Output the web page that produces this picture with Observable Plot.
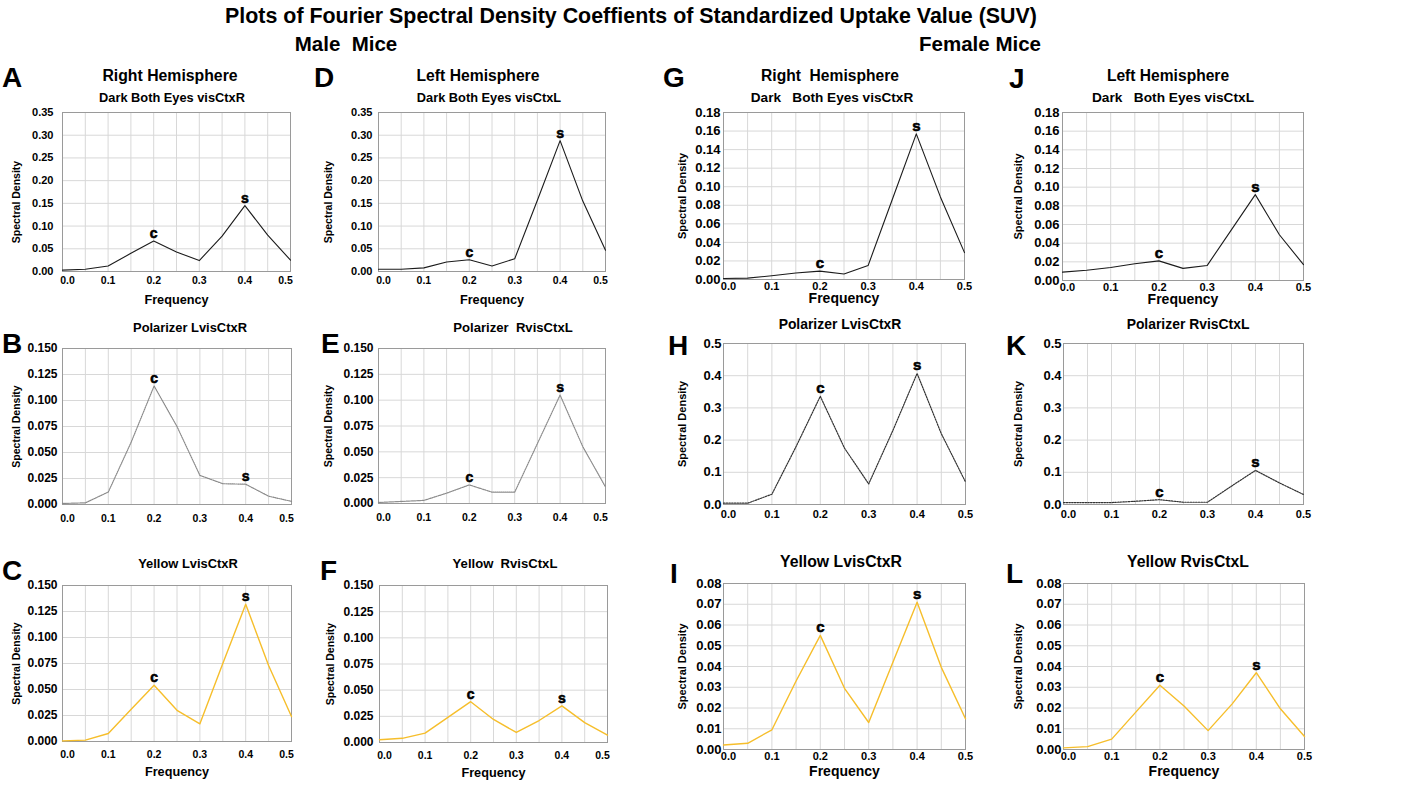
<!DOCTYPE html>
<html>
<head>
<meta charset="utf-8">
<script src="https://cdn.jsdelivr.net/npm/d3@7"></script>
<script src="https://cdn.jsdelivr.net/npm/@observablehq/plot@0.6"></script>
<style>
  body { margin: 0; background: #fff; }
  #fig { position: relative; width: 1404px; height: 785px; overflow: hidden; background: #fff;
         font-family: "Liberation Sans", Arial, sans-serif; }
  #fig > svg { position: absolute; }
</style>
</head>
<body>
<div id="fig"></div>
<script>
// Frequencies of the spectral estimates
const freq = [0, 0.05, 0.1, 0.15, 0.2, 0.25, 0.3, 0.35, 0.4, 0.45, 0.5];

// Spectral density of SUV, male mice
const maleDarkR   = [0.003, 0.005, 0.012, 0.040, 0.067, 0.043, 0.024, 0.078, 0.145, 0.080, 0.025];
const maleDarkL   = [0.005, 0.005, 0.008, 0.021, 0.026, 0.012, 0.028, 0.157, 0.288, 0.155, 0.047];
const malePolR    = [0.001, 0.0016, 0.012, 0.060, 0.114, 0.075, 0.028, 0.020, 0.0195, 0.008, 0.003];
const malePolL    = [0.001, 0.002, 0.003, 0.010, 0.018, 0.011, 0.011, 0.058, 0.105, 0.055, 0.016];
const maleYelR    = [0.0006, 0.0013, 0.0077, 0.031, 0.054, 0.030, 0.017, 0.075, 0.132, 0.073, 0.024];
const maleYelL    = [0.0026, 0.004, 0.009, 0.024, 0.039, 0.022, 0.0096, 0.021, 0.035, 0.019, 0.007];

// Spectral density of SUV, female mice
const femDarkR    = [0.001, 0.0015, 0.004, 0.007, 0.009, 0.006, 0.015, 0.086, 0.157, 0.089, 0.029];
const femDarkL    = [0.009, 0.011, 0.014, 0.018, 0.021, 0.013, 0.016, 0.054, 0.092, 0.049, 0.017];
const femPolR     = [0.004, 0.004, 0.032, 0.180, 0.336, 0.175, 0.064, 0.230, 0.407, 0.220, 0.070];
const femPolL     = [0.006, 0.006, 0.006, 0.010, 0.015, 0.007, 0.007, 0.057, 0.106, 0.067, 0.031];
const femYelR     = [0.0022, 0.003, 0.0095, 0.033, 0.055, 0.0295, 0.013, 0.042, 0.071, 0.0396, 0.0148];
const femYelL     = [0.0008, 0.0014, 0.005, 0.018, 0.031, 0.021, 0.0091, 0.022, 0.037, 0.0196, 0.0063];

// Peak annotations
const peakFreqs  = [0.2, 0.4];
const peakLabels = ["c", "s"];

// Axis ticks
const xTicks   = [0, 0.1, 0.2, 0.3, 0.4, 0.5];
const xGrid    = [0.05, 0.1, 0.15, 0.2, 0.25, 0.3, 0.35, 0.4, 0.45];
const yTicks35 = [0, 0.05, 0.10, 0.15, 0.20, 0.25, 0.30, 0.35];
const yTicks18 = [0, 0.02, 0.04, 0.06, 0.08, 0.10, 0.12, 0.14, 0.16, 0.18];
const yTicks15 = [0, 0.025, 0.05, 0.075, 0.10, 0.125, 0.15];
const yTicks5  = [0, 0.1, 0.2, 0.3, 0.4, 0.5];
const yTicks08 = [0, 0.01, 0.02, 0.03, 0.04, 0.05, 0.06, 0.07, 0.08];

const FONT = "Liberation Sans, Arial, sans-serif";

// Line styles per condition
const styles = {
  dark:   {stroke: "#1b1b1b", strokeWidth: 1.1},
  polM:   {stroke: "#8a8a8a", strokeWidth: 1.2, strokeDasharray: "1 1"},
  polF:   {stroke: "#333333", strokeWidth: 1.2, strokeDasharray: "1.5 1.2"},
  yellow: {stroke: "#f6be2b", strokeWidth: 1.4}
};

// Text sizes (male dark row, other male rows, female columns)
const maleTop = {yTick: 11,   xTick: 10.5, yLab: 10.5, xLab: 12.7, peak: 14, endShift: -5};
const maleLow = {yTick: 12,   xTick: 10.5, yLab: 10.5, xLab: 12.7, peak: 14, endShift: -5};
const female  = {yTick: 13,   xTick: 11,   yLab: 11,   xLab: 14,   peak: 15, endShift: 0};

// Panel definitions: plot frame box [left, top, right, bottom] on the page
const panels = [
  {box: [62, 112, 290, 271],   values: maleDarkR, dom: [0, 0.35], ticks: yTicks35, fmt: ".2f", st: styles.dark,   f: maleTop, yPad: 9, xPad: 5, xLab: 32, yGap: 46, yShift: 10},
  {box: [378, 112, 605, 271],  values: maleDarkL, dom: [0, 0.35], ticks: yTicks35, fmt: ".2f", st: styles.dark,   f: maleTop, yPad: 6, xPad: 5, xLab: 32, yGap: 50, yShift: 10},
  {box: [723, 112, 964, 279],  values: femDarkR,  dom: [0, 0.18], ticks: yTicks18, fmt: ".2f", st: styles.dark,   f: female,  yPad: 3, xPad: 3, xLab: 23, yGap: 41, yShift: 0},
  {box: [1062, 112, 1303, 280],values: femDarkL,  dom: [0, 0.18], ticks: yTicks18, fmt: ".2f", st: styles.dark,   f: female,  yPad: 3, xPad: 3, xLab: 23, yGap: 44, yShift: 0},
  {box: [62, 348, 291, 504],   values: malePolR,  dom: [0, 0.15], ticks: yTicks15, fmt: ".3f", st: styles.polM,   f: maleLow, yPad: 5, xPad: 10, xLab: null, yGap: 46, yShift: 0},
  {box: [378, 348, 605, 503],  values: malePolL,  dom: [0, 0.15], ticks: yTicks15, fmt: ".3f", st: styles.polM,   f: maleLow, yPad: 5, xPad: 10, xLab: null, yGap: 50, yShift: 0},
  {box: [723, 343, 965, 504],  values: femPolR,   dom: [0, 0.5],  ticks: yTicks5,  fmt: ".1f", st: styles.polF,   f: female,  yPad: 2, xPad: 6, xLab: null, yGap: 41, yShift: 0},
  {box: [1063, 343, 1303, 504],values: femPolL,   dom: [0, 0.5],  ticks: yTicks5,  fmt: ".1f", st: styles.polF,   f: female,  yPad: 2, xPad: 6, xLab: null, yGap: 45, yShift: 0},
  {box: [62, 585, 291, 741],   values: maleYelR,  dom: [0, 0.15], ticks: yTicks15, fmt: ".3f", st: styles.yellow, f: maleLow, yPad: 5, xPad: 9, xLab: 34, yGap: 46, yShift: 0},
  {box: [379, 585, 607, 742],  values: maleYelL,  dom: [0, 0.15], ticks: yTicks15, fmt: ".3f", st: styles.yellow, f: maleLow, yPad: 6, xPad: 9, xLab: 34, yGap: 49, yShift: 0},
  {box: [723, 583, 965, 749],  values: femYelR,   dom: [0, 0.08], ticks: yTicks08, fmt: ".2f", st: styles.yellow, f: female,  yPad: 2, xPad: 3, xLab: 26, yGap: 41, yShift: 0},
  {box: [1063, 583, 1304, 749],values: femYelL,   dom: [0, 0.08], ticks: yTicks08, fmt: ".2f", st: styles.yellow, f: female,  yPad: 2, xPad: 3, xLab: 26, yGap: 45, yShift: 0}
];

const fig = document.getElementById("fig");
const mL = 70, mR = 14, mT = 24, mB = 44;
const fmtX = d3.format(".1f");

for (const p of panels) {
  const [x0, y0, x1, y1] = p.box;
  const fmtY = d3.format(p.fmt);
  const series = freq.map((f, i) => ({f, v: p.values[i]}));
  const peaks = peakFreqs.map((f, k) => ({f, v: p.values[freq.indexOf(f)], t: peakLabels[k]}));
  const xText = {x: d => d, text: d => fmtX(d), frameAnchor: "bottom", lineAnchor: "top",
    textAnchor: "middle", dy: p.xPad, fontSize: p.f.xTick, fontWeight: "bold", fill: "#000"};
  const marks = [
    Plot.gridX(xGrid, {stroke: "#d8d8d8", strokeOpacity: 1}),
    Plot.gridY(p.ticks, {stroke: "#d8d8d8", strokeOpacity: 1}),
    Plot.frame({stroke: "#9a9a9a"}),
    // x tick labels; the end labels are nudged inside the frame
    Plot.text(xTicks.slice(0, 1), {...xText, dx: 5}),
    Plot.text(xTicks.slice(1, -1), xText),
    Plot.text(xTicks.slice(-1), {...xText, dx: p.f.endShift}),
    // y tick labels
    Plot.text(p.ticks, {y: d => d, text: d => fmtY(d), frameAnchor: "left", textAnchor: "end",
      lineAnchor: "middle", dx: -p.yPad, fontSize: p.f.yTick, fontWeight: "bold", fill: "#000"}),
    Plot.line(series, {x: "f", y: "v", ...p.st}),
    Plot.text(peaks, {x: "f", y: "v", text: "t", lineAnchor: "bottom", dy: -3,
      fontSize: p.f.peak, fontWeight: "bold", fill: "#000", stroke: "#000", strokeWidth: 0.6}),
    Plot.text(["Spectral Density"], {text: d => d, frameAnchor: "left", textAnchor: "middle",
      lineAnchor: "middle", rotate: -90, dx: -p.yGap, dy: p.yShift,
      fontSize: p.f.yLab, fontWeight: "bold", fill: "#000"})
  ];
  if (p.xLab != null) {
    marks.push(Plot.text(["Frequency"], {text: d => d, frameAnchor: "bottom", lineAnchor: "bottom",
      textAnchor: "middle", dy: p.xLab, fontSize: p.f.xLab, fontWeight: "bold", fill: "#000"}));
  }
  const chart = Plot.plot({
    width: (x1 - x0) + mL + mR,
    height: (y1 - y0) + mT + mB,
    marginLeft: mL, marginRight: mR, marginTop: mT, marginBottom: mB,
    x: {domain: [0, 0.5], axis: null},
    y: {domain: p.dom, axis: null},
    style: {fontFamily: FONT, background: "transparent", overflow: "visible", color: "#000"},
    marks
  });
  chart.style.left = (x0 - mL) + "px";
  chart.style.top = (y0 - mT) + "px";
  chart.style.maxWidth = "none";
  fig.appendChild(chart);
}

// Page-level headings and panel letters
const headings = [
  {t: "Plots of Fourier Spectral Density Coeffients of Standardized Uptake Value (SUV)", x: 631, y: 23, s: 21.4, a: "middle"},
  {t: "Male  Mice", x: 346, y: 51, s: 20.5, a: "middle"},
  {t: "Female Mice", x: 980, y: 51, s: 20.5, a: "middle"},
  {t: "Right Hemisphere", x: 170, y: 81, s: 15.8, a: "middle"},
  {t: "Dark Both Eyes visCtxR", x: 172, y: 102, s: 12.8, a: "middle"},
  {t: "Left Hemisphere", x: 478, y: 81, s: 15.7, a: "middle"},
  {t: "Dark Both Eyes visCtxL", x: 489, y: 102, s: 12.8, a: "middle"},
  {t: "Right  Hemisphere", x: 830, y: 81, s: 15.6, a: "middle"},
  {t: "Dark   Both Eyes visCtxR", x: 832, y: 102, s: 13.6, a: "middle"},
  {t: "Left Hemisphere", x: 1168, y: 81, s: 15.6, a: "middle"},
  {t: "Dark   Both Eyes visCtxL", x: 1173, y: 102, s: 13.7, a: "middle"},
  {t: "Polarizer LvisCtxR", x: 190, y: 332, s: 12.9, a: "middle"},
  {t: "Polarizer  RvisCtxL", x: 513, y: 332, s: 13.1, a: "middle"},
  {t: "Polarizer LvisCtxR", x: 840, y: 329, s: 13.9, a: "middle"},
  {t: "Polarizer RvisCtxL", x: 1188, y: 329, s: 13.9, a: "middle"},
  {t: "Yellow LvisCtxR", x: 188, y: 568, s: 12.9, a: "middle"},
  {t: "Yellow  RvisCtxL", x: 505, y: 568, s: 13.1, a: "middle"},
  {t: "Yellow LvisCtxR", x: 841, y: 567, s: 15.8, a: "middle"},
  {t: "Yellow RvisCtxL", x: 1188, y: 567, s: 15.8, a: "middle"},
  {t: "A", x: 2, y: 87, s: 28, a: "start"},
  {t: "D", x: 314, y: 87, s: 28, a: "start"},
  {t: "G", x: 663, y: 87, s: 28, a: "start"},
  {t: "J", x: 1009, y: 88, s: 28, a: "start"},
  {t: "B", x: 2, y: 353, s: 28, a: "start"},
  {t: "E", x: 321, y: 353, s: 28, a: "start"},
  {t: "H", x: 668, y: 355, s: 28, a: "start"},
  {t: "K", x: 1006, y: 355, s: 28, a: "start"},
  {t: "C", x: 2, y: 580, s: 28, a: "start"},
  {t: "F", x: 320, y: 580, s: 28, a: "start"},
  {t: "I", x: 670, y: 583, s: 28, a: "start"},
  {t: "L", x: 1006, y: 583, s: 28, a: "start"}
];

const overlay = d3.create("svg")
  .attr("width", 1404).attr("height", 785)
  .style("left", "0px").style("top", "0px").style("pointer-events", "none")
  .attr("font-family", FONT).attr("font-weight", "bold");
overlay.selectAll("text").data(headings).join("text")
  .attr("x", d => d.x).attr("y", d => d.y)
  .attr("font-size", d => d.s)
  .attr("text-anchor", d => d.a)
  .attr("fill", "#000")
  .style("white-space", "pre")
  .text(d => d.t);
fig.appendChild(overlay.node());
</script>
</body>
</html>
